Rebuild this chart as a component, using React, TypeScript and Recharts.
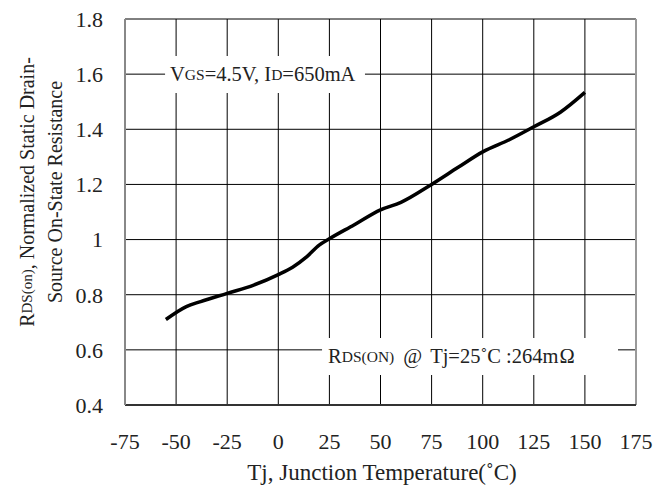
import React from 'react';
import { LineChart, Line, XAxis, YAxis, CartesianGrid, ReferenceArea, ReferenceLine } from 'recharts';

const temps = [-55, -45, -38, -25, -12, 0, 7, 14, 20, 25, 37, 50, 60, 75, 88, 100, 113, 125, 138, 150];
const rdsNorm = [0.71, 0.757, 0.775, 0.805, 0.835, 0.873, 0.9, 0.938, 0.98, 1.003, 1.053, 1.108, 1.135, 1.2, 1.262, 1.318, 1.362, 1.409, 1.462, 1.534];
const xTicks = [-75, -50, -25, 0, 25, 50, 75, 100, 125, 150, 175];
const yTicks = [0.4, 0.6, 0.8, 1, 1.2, 1.4, 1.6, 1.8];
const yTickLabels = ['0.4', '0.6', '0.8', '1', '1.2', '1.4', '1.6', '1.8'];

const data = temps.map((t, i) => ({ t, r: rdsNorm[i] }));

const FONT = '"Liberation Serif", "Times New Roman", serif';
const TICK_FS = 22;

const CondLabel = (props: any) => {
  const { x, y, height } = props.viewBox;
  return (
    <text x={x + 5} y={y + height / 2} dominantBaseline="central" fontFamily={FONT} fontSize={20.5} fill="#222">
      V<tspan fontSize={15.5}>GS</tspan>=4.5V, I<tspan fontSize={15.5}>D</tspan>=650mA
    </text>
  );
};

const RefLabel = (props: any) => {
  const { x, y, height } = props.viewBox;
  return (
    <text x={x + 6} y={y + height / 2} dominantBaseline="central" fontFamily={FONT} fontSize={20.5} fill="#222">
      R<tspan fontSize={15.5}>DS(ON)</tspan>
      <tspan dx={9}>@</tspan>
      <tspan dx={8}>Tj=25˚C :264m</tspan>
      <tspan dx={1}>Ω</tspan>
    </text>
  );
};

const YTitle = () => (
  <g fontFamily={FONT} fontSize={20} fill="#222">
    <text x={0} y={0} textAnchor="middle" dominantBaseline="central" transform="translate(27,192) rotate(-90)">
      R<tspan fontSize={15}>DS(on)</tspan>, Normalized Static Drain-
    </text>
    <text x={0} y={0} textAnchor="middle" dominantBaseline="central" transform="translate(55,192) rotate(-90)">
      Source On-State Resistance
    </text>
  </g>
);

const XTitle = () => (
  <text x={382} y={472} textAnchor="middle" dominantBaseline="central" fontFamily={FONT} fontSize={23} fill="#222">
    Tj, Junction Temperature(˚C)
  </text>
);

export default function App() {
  return (
    <div style={{ position: 'absolute', left: 0, top: 0, background: '#fff' }}>
      <LineChart width={669} height={488} data={data} margin={{ top: 19, right: 33, bottom: 0, left: 0 }}>
        <CartesianGrid stroke="#000" strokeWidth={1} horizontal vertical />
        <XAxis
          dataKey="t"
          type="number"
          domain={[-75, 175]}
          ticks={xTicks}
          height={83}
          axisLine={{ stroke: '#333', strokeWidth: 2 }}
          tickLine={false}
          tickMargin={22}
          tick={{ fontFamily: FONT, fontSize: TICK_FS, fill: '#222' }}
          interval={0}
          label={<XTitle />}
        />
        <YAxis
          type="number"
          domain={[0.4, 1.8]}
          ticks={yTicks}
          width={125}
          axisLine={{ stroke: '#888', strokeWidth: 2 }}
          tickLine={false}
          tickMargin={16}
          tickFormatter={(v: number) => yTickLabels[yTicks.indexOf(v)] ?? String(v)}
          tick={{ fontFamily: FONT, fontSize: TICK_FS, fill: '#222' }}
          interval={0}
          label={<YTitle />}
        />
        <ReferenceLine x={175} stroke="#999" strokeWidth={2} />
        <ReferenceArea x1={-55.4} x2={42.4} y1={1.532} y2={1.666} fill="#fff" fillOpacity={1} stroke="none" label={<CondLabel />} />
        <ReferenceArea x1={21.4} x2={166.2} y1={0.509} y2={0.643} fill="#fff" fillOpacity={1} stroke="none" label={<RefLabel />} />
        <Line type="monotone" dataKey="r" stroke="#000" strokeWidth={3.5} dot={false} isAnimationActive={false} />
      </LineChart>
    </div>
  );
}
